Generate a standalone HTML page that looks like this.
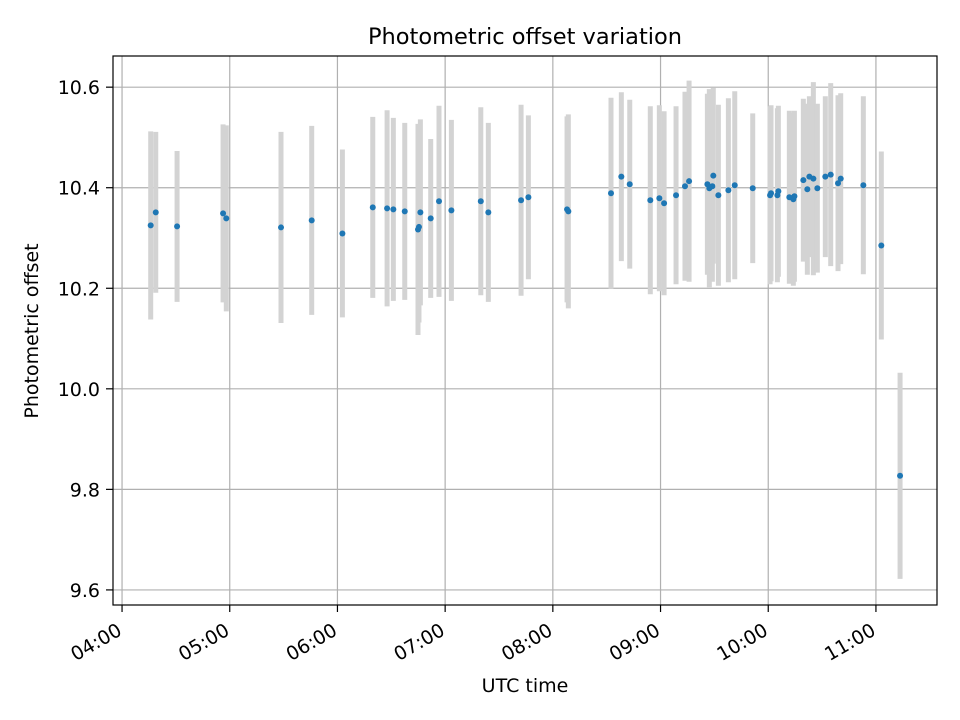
<!DOCTYPE html>
<html><head><meta charset="utf-8"><style>
html,body{margin:0;padding:0;background:#fff;}
svg{display:block;font-family:"DejaVu Sans","Liberation Sans",sans-serif;}
</style></head><body>
<svg id="chart" width="960" height="720" xmlns="http://www.w3.org/2000/svg">
<rect width="960" height="720" fill="#fff"/>
<text x="525" y="44" font-size="22.5" text-anchor="middle">Photometric offset variation</text>
<text x="525" y="692" font-size="19" text-anchor="middle">UTC time</text>
<text transform="translate(38,331) rotate(-90)" font-size="19" text-anchor="middle">Photometric offset</text>
<g id="grid"></g><g id="bars"></g><g id="pts"></g><g id="ticks"></g>
<rect x="113" y="56" width="824" height="549" fill="none" stroke="#000" stroke-width="1.2"/>
</svg>
<script>
const times=[4.266,4.313,4.511,4.938,4.968,5.476,5.761,6.046,6.328,6.461,6.519,6.625,6.748,6.757,6.770,6.866,6.943,7.058,7.331,7.401,7.705,7.773,8.132,8.144,8.540,8.636,8.714,8.905,8.989,9.033,9.144,9.227,9.265,9.435,9.453,9.490,9.481,9.537,9.630,9.689,9.856,10.017,10.026,10.085,10.094,10.196,10.233,10.243,10.326,10.363,10.382,10.419,10.456,10.530,10.580,10.648,10.673,10.883,11.050,11.224];
const offsets=[10.325,10.351,10.323,10.349,10.339,10.321,10.335,10.309,10.361,10.359,10.357,10.353,10.317,10.322,10.351,10.339,10.373,10.355,10.373,10.351,10.375,10.381,10.357,10.353,10.389,10.422,10.407,10.375,10.379,10.369,10.385,10.403,10.413,10.407,10.399,10.424,10.403,10.385,10.395,10.405,10.399,10.385,10.389,10.385,10.393,10.381,10.377,10.383,10.415,10.397,10.422,10.418,10.399,10.422,10.426,10.409,10.418,10.405,10.285,9.827];
const errors=[0.187,0.16,0.15,0.177,0.185,0.19,0.188,0.167,0.18,0.195,0.182,0.176,0.21,0.19,0.185,0.158,0.19,0.18,0.187,0.178,0.19,0.163,0.185,0.193,0.19,0.168,0.168,0.187,0.185,0.183,0.177,0.188,0.2,0.18,0.197,0.175,0.19,0.18,0.183,0.187,0.149,0.177,0.175,0.173,0.17,0.172,0.172,0.17,0.162,0.17,0.16,0.192,0.168,0.16,0.182,0.175,0.17,0.177,0.187,0.205];
const yTicks=[9.6,9.8,10.0,10.2,10.4,10.6];
const xTickHours=[4,5,6,7,8,9,10,11];
const xTickLabels=["04:00","05:00","06:00","07:00","08:00","09:00","10:00","11:00"];
const NS="http://www.w3.org/2000/svg";
const X0=113,X1=937,Y0=605,Y1=56,xmin=3.916,xmax=11.567,ymin=9.570,ymax=10.662;
function xs(h){return X0+(h-xmin)/(xmax-xmin)*(X1-X0);}
function ys(v){return Y0-(v-ymin)/(ymax-ymin)*(Y0-Y1);}
function mk(t,a,p){const e=document.createElementNS(NS,t);for(const k in a)e.setAttribute(k,a[k]);document.getElementById(p).appendChild(e);return e;}
yTicks.forEach(v=>{const y=ys(v);
 const g=mk('line',{x1:X0,x2:X1,y1:y,y2:y,stroke:'#b0b0b0','stroke-width':1.2},'grid');
 
 
 mk('line',{x1:X0-7,x2:X0,y1:y,y2:y,stroke:'#000','stroke-width':1.2},'ticks');
 const t=mk('text',{x:X0-13,y:y+7,'font-size':19,'text-anchor':'end'},'ticks');
 t.textContent=v.toFixed(1);
 
 
});
xTickHours.forEach((h,i)=>{const x=xs(h);
 const g=mk('line',{x1:x,x2:x,y1:Y1,y2:Y0,stroke:'#b0b0b0','stroke-width':1.2},'grid');
 
 
 mk('line',{x1:x,x2:x,y1:Y0,y2:Y0+7,stroke:'#000','stroke-width':1.2},'ticks');
 const t=mk('text',{transform:`translate(${x+1},${Y0+29}) rotate(-30)`,'font-size':19,'text-anchor':'end'},'ticks');
 t.textContent=xTickLabels[i];
 
 
});
times.forEach((h,i)=>{const x=xs(h);
 const b=mk('line',{x1:x,x2:x,y1:ys(offsets[i]+errors[i]),y2:ys(offsets[i]-errors[i]),stroke:'#d3d3d3','stroke-width':5},'bars');
 
 
});
times.forEach((h,i)=>{
 const c=mk('circle',{cx:xs(h),cy:ys(offsets[i]),r:3,fill:'#1f77b4'},'pts');
 
 
});
</script>
</body></html>
